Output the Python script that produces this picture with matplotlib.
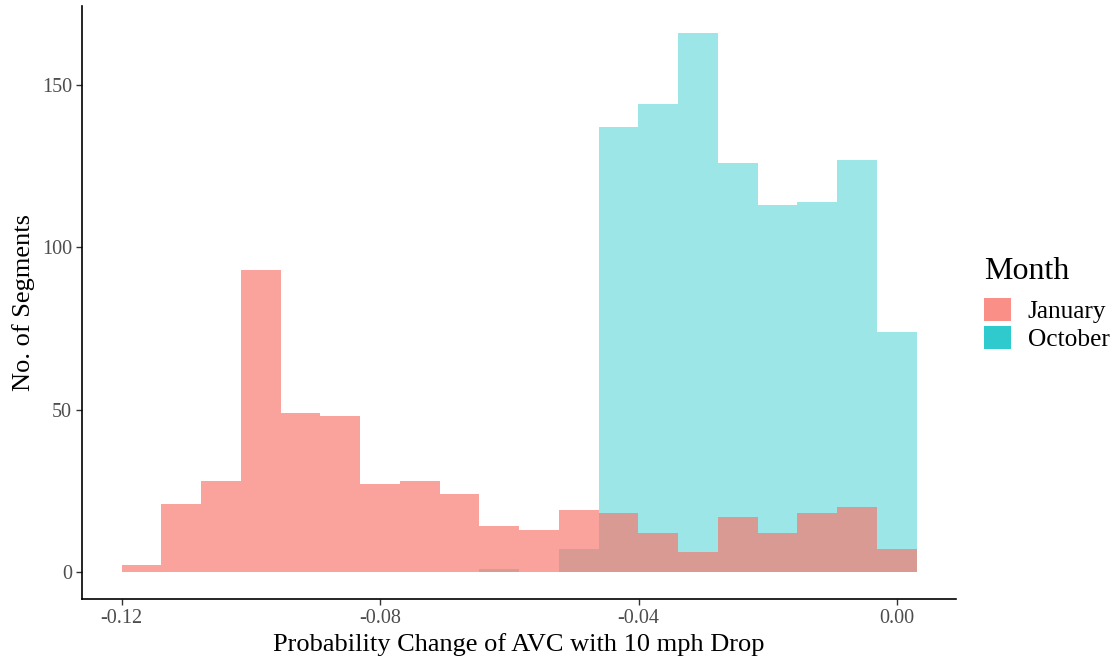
import matplotlib
matplotlib.use("Agg")
import matplotlib.pyplot as plt
import numpy as np
from matplotlib.patches import Patch

# Histogram bins (shared by both months)
bin_start = -0.12003
bin_end = 0.00303
n_bins = 20

# Counts per bin
january = [2, 21, 28, 93, 49, 48, 27, 28, 24, 14, 13, 19, 18, 12, 6, 17, 12, 18, 20, 7]
october = [0, 0, 0, 0, 0, 0, 0, 0, 0, 1, 0, 7, 137, 144, 166, 126, 113, 114, 127, 74]

months = ["January", "October"]
colors = {"January": "#F8766D", "October": "#00BFC4"}

x_ticks = [-0.12, -0.08, -0.04, 0.00]
y_ticks = [0, 50, 100, 150]

plt.rcParams["font.family"] = ["Liberation Serif", "DejaVu Serif"]

edges = np.linspace(bin_start, bin_end, n_bins + 1)
width = edges[1] - edges[0]

fig = plt.figure(figsize=(11.2, 6.61), dpi=100)
ax = fig.add_axes([0.073, 0.094, 0.781, 0.897])

# October first, January drawn on top (as in the reference overlap colour)
ax.bar(edges[:-1], october, width=width, align="edge",
       color=colors["October"], alpha=0.39, linewidth=0)
ax.bar(edges[:-1], january, width=width, align="edge",
       color=colors["January"], alpha=0.68, linewidth=0)

span = bin_end - bin_start
ax.set_xlim(bin_start - 0.05 * span, bin_end + 0.05 * span)
ymax = max(max(january), max(october))
ax.set_ylim(-0.05 * ymax, ymax * 1.05)

ax.set_xticks(x_ticks)
ax.set_xticklabels([f"{v:.2f}" for v in x_ticks])
ax.set_yticks(y_ticks)

for side in ["top", "right"]:
    ax.spines[side].set_visible(False)
for side in ["left", "bottom"]:
    ax.spines[side].set_linewidth(1.2)
    ax.spines[side].set_color("black")

ax.tick_params(axis="both", length=4, width=1.0, color="#333333",
               labelsize=14.5, labelcolor="#4D4D4D", pad=3)

ax.set_xlabel("Probability Change of AVC with 10 mph Drop", fontsize=19, labelpad=4)
ax.set_ylabel("No. of Segments", fontsize=19, labelpad=5)

handles = [Patch(facecolor=colors[m], alpha=0.82, linewidth=0, label=m) for m in months]
leg = ax.legend(handles=handles, title="Month", loc="center left",
                bbox_to_anchor=(1.032, 0.497), frameon=False,
                fontsize=18.3, title_fontsize=23, alignment="left",
                handlelength=1.05, handleheight=1.05, handletextpad=0.65,
                labelspacing=0.1, borderpad=0, borderaxespad=0)
# a bit more room between the legend title and its keys
leg._legend_box.sep = 8

fig.savefig("out.png", dpi=100)
